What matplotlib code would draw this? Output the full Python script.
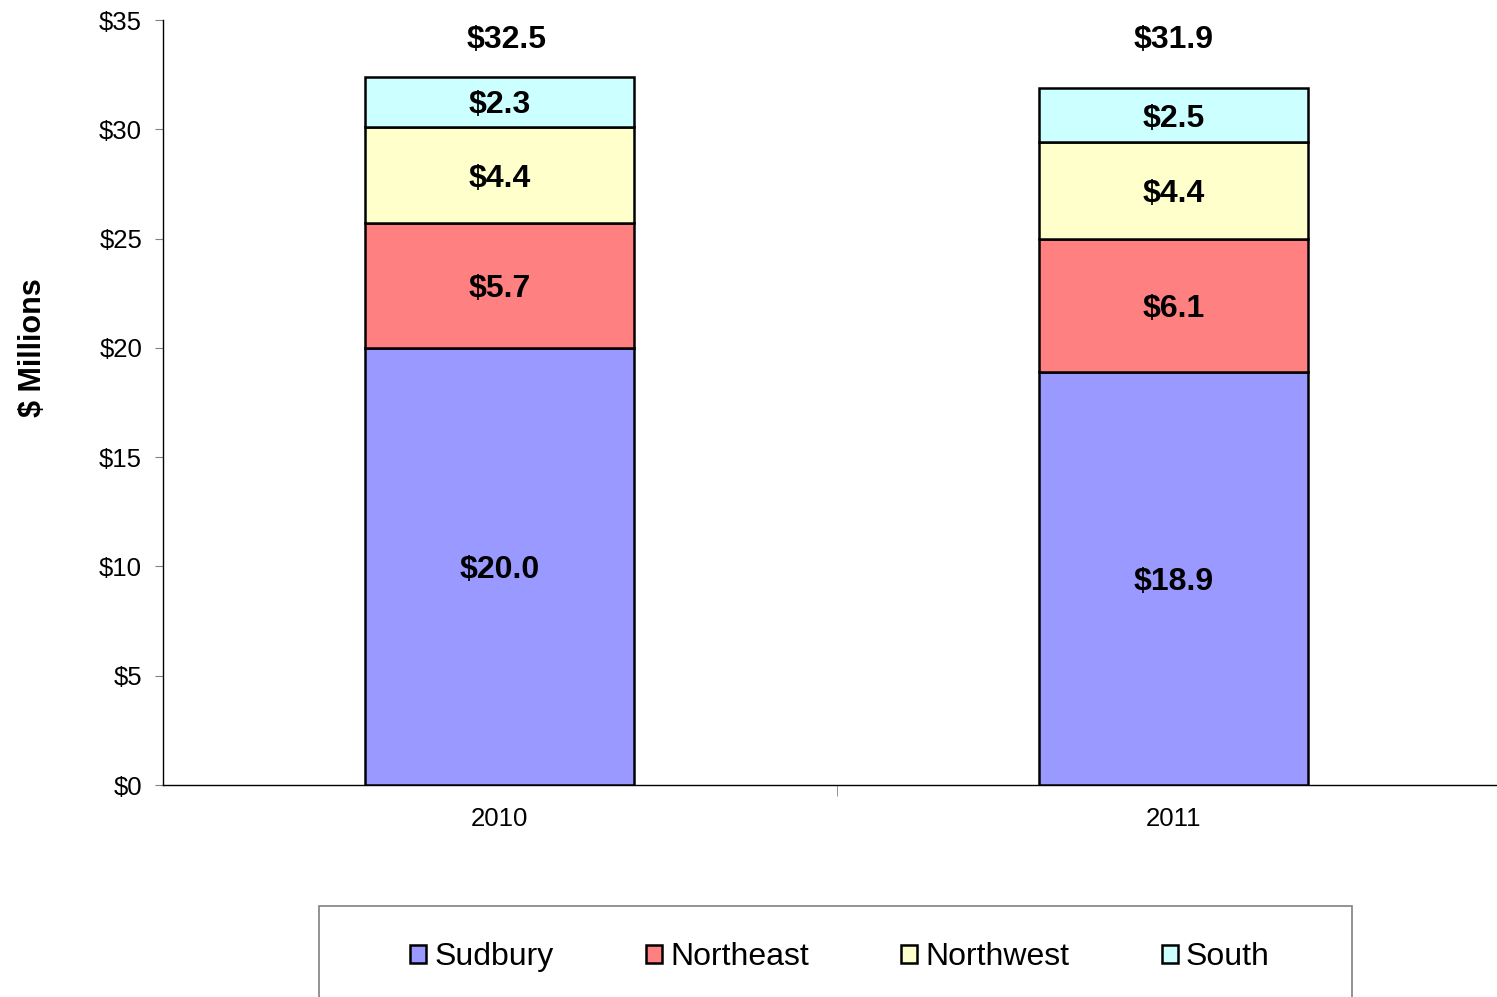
import matplotlib.pyplot as plt
from matplotlib.patches import Rectangle

plt.rcParams['font.family'] = ['Liberation Sans', 'DejaVu Sans']

years = ['2010', '2011']
regions = ['Sudbury', 'Northeast', 'Northwest', 'South']
sudbury = [20.0, 18.9]
northeast = [5.7, 6.1]
northwest = [4.4, 4.4]
south = [2.3, 2.5]
totals = [32.5, 31.9]
colors = ['#9999FF', '#FF8080', '#FFFFCC', '#CCFFFF']
yticks = [0, 5, 10, 15, 20, 25, 30, 35]

W, H = 1497, 997
fig = plt.figure(figsize=(W / 100, H / 100), dpi=100)
ax = fig.add_axes([163 / W, 1 - 785 / H, (1510 - 163) / W, (785 - 20) / H])

x = list(range(len(years)))
bottom = [0.0, 0.0]
for name, vals, c in zip(regions, [sudbury, northeast, northwest, south], colors):
    ax.bar(x, vals, width=0.4, bottom=bottom, color=c, edgecolor='black',
           linewidth=1.8, label=name, zorder=3)
    for i, v in enumerate(vals):
        ax.text(x[i], bottom[i] + v / 2, f'${v:.1f}', ha='center', va='center_baseline',
                fontsize=23, fontweight='bold', zorder=4)
    bottom = [b + v for b, v in zip(bottom, vals)]

for i, t in enumerate(totals):
    ax.text(x[i] + (0.01 if i == 0 else 0), 34.25, f'${t:.1f}', ha='center',
            va='center_baseline', fontsize=23, fontweight='bold')

ax.set_xlim(-0.5, 1.5)
ax.set_ylim(0, 35)
ax.set_yticks(yticks)
ax.set_yticklabels([f'${v}' for v in yticks])
ax.set_xticks(x)
ax.set_xticklabels(years)
ax.set_xticks([0.5], minor=True)
ax.tick_params(axis='x', which='major', length=0, pad=16, labelsize=18.5)
ax.tick_params(axis='x', which='minor', length=8, color='#808080', direction='out')
ax.tick_params(axis='y', length=6, color='#808080', labelsize=18.5, pad=9)
for s in ['top', 'right']:
    ax.spines[s].set_visible(False)
ax.spines['left'].set_linewidth(1.0)
ax.spines['bottom'].set_linewidth(1.0)

fig.text(33 / W, 1 - 348 / H, '$ Millions', rotation=90, ha='center', va='center',
         fontsize=22, fontweight='bold')

# legend box, runs off the bottom of the image
fig.patches.append(Rectangle((319 / W, -0.05), (1352 - 319) / W, (997 - 906) / H + 0.05,
                             transform=fig.transFigure, facecolor='white',
                             edgecolor='#808080', linewidth=1.2))
fig.legend(loc='center', bbox_to_anchor=(840 / W, 1 - 957 / H), ncol=4, frameon=False,
           fontsize=23, handlelength=0.5, handleheight=0.5, handletextpad=0.25,
           columnspacing=2.9)

fig.savefig('out.png', dpi=100)
